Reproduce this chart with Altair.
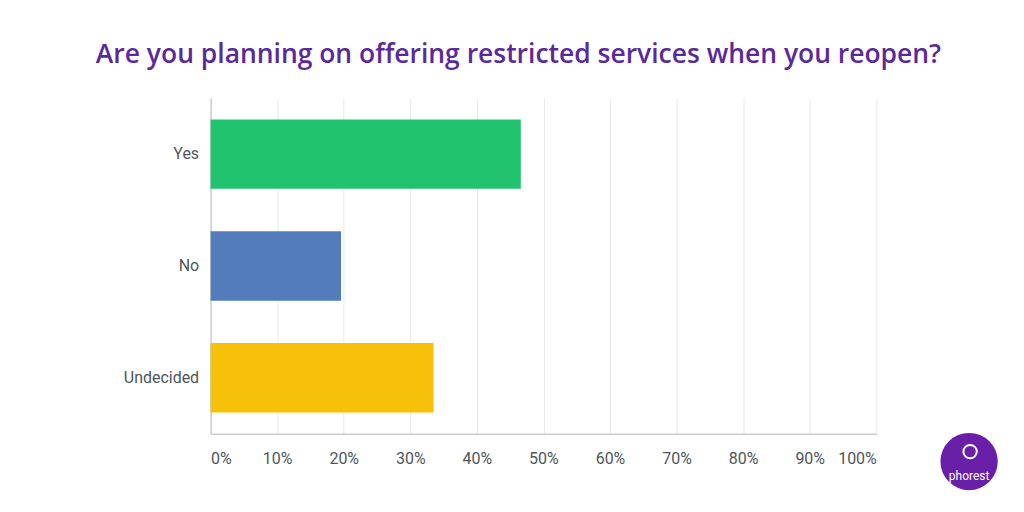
import altair as alt
import pandas as pd

categories = ["Yes", "No", "Undecided"]
values = [46.6, 19.6, 33.5]
colors = ["#21c36f", "#527cba", "#f7c10a"]
x_ticks = [0, 10, 20, 30, 40, 50, 60, 70, 80, 90, 100]

df = pd.DataFrame({"answer": categories, "pct": values, "color": colors})

W, H = 667, 336

bars = alt.Chart(df).mark_bar().encode(
    y=alt.Y("answer:N", sort=categories,
            scale=alt.Scale(paddingInner=0.38, paddingOuter=0.19),
            axis=alt.Axis(title=None, ticks=False, labelFontSize=16, labelColor="#50555b",
                          labelFont="Roboto", labelPadding=12, domainColor="#cccccc",
                          domainWidth=1.5, grid=False)),
    x=alt.X("pct:Q", scale=alt.Scale(domain=[0, 100], nice=False),
            axis=alt.Axis(title=None, values=x_ticks, labelExpr="datum.value + '%'",
                          ticks=False, labelFontSize=16, labelColor="#50555b",
                          labelFont="Roboto", labelPadding=17, domainColor="#cccccc",
                          domainWidth=1.5, gridColor="#e8e8e8", labelFlush=True)),
    color=alt.Color("color:N", scale=None),
)

logo_df = pd.DataFrame({"t": ["phorest"]})
logo_circle = alt.Chart(logo_df).mark_circle(color="#6a1fa8", opacity=1, size=3300).encode(
    x=alt.value(760), y=alt.value(364)
)
logo_icon = alt.Chart(logo_df).mark_point(color="white", filled=False, strokeWidth=2,
                                          size=180, opacity=1).encode(
    x=alt.value(761), y=alt.value(354)
)
logo_text = alt.Chart(logo_df).mark_text(color="white", fontSize=12, font="Roboto").encode(
    x=alt.value(760), y=alt.value(378), text="t:N"
)

chart = alt.layer(bars, logo_circle, logo_icon, logo_text).properties(
    width=W, height=H,
    title=alt.TitleParams("Are you planning on offering restricted services when you reopen?",
                          fontSize=26.5, font="Open Sans", fontWeight=600, color="#5a2a9c",
                          anchor="middle", dx=-25, offset=30),
    padding={"left": 203, "top": 90, "right": 140, "bottom": 70},
    autosize=alt.AutoSizeParams(type="none"),
).configure_view(stroke=None)

chart.save("out.html", embed_options={"renderer": "svg", "actions": False})
